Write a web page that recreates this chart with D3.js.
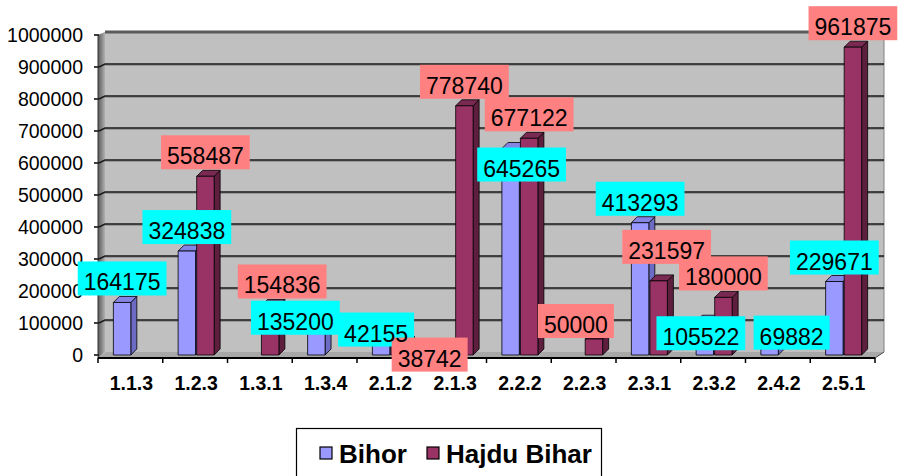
<!DOCTYPE html>
<html>
<head>
<meta charset="utf-8">
<script src="https://cdn.jsdelivr.net/npm/d3@7"></script>
<style>
  body { margin: 0; background: #fff; }
  svg { display: block; font-family: "Liberation Sans", Arial, sans-serif; }
</style>
</head>
<body>
<div id="chart"></div>
<script>
// data
const categories = ["1.1.3", "1.2.3", "1.3.1", "1.3.4", "2.1.2", "2.1.3", "2.2.2", "2.2.3", "2.3.1", "2.3.2", "2.4.2", "2.5.1"];
const seriesNames = ["Bihor", "Hajdu Bihar"];
const bihor = [164175, 324838, null, 135200, 42155, null, 645265, null, 413293, 105522, 69882, 229671];
const hajdu = [null, 558487, 154836, null, 38742, 778740, 677122, 50000, 231597, 180000, null, 961875];
const yTicks = [0, 100000, 200000, 300000, 400000, 500000, 600000, 700000, 800000, 900000, 1000000];

// label boxes that excel pushed around (px, relative to default spot)
const labelNudge = {
  "Hajdu Bihar|1.3.1": [12, 0],
  "Bihor|1.3.4": [-21, 30],
  "Bihor|2.1.2": [-5, 12],
  "Hajdu Bihar|2.1.2": [30, 36],
  "Bihor|2.2.2": [11, 40],
  "Hajdu Bihar|2.2.3": [-18, 6],
  "Hajdu Bihar|2.3.1": [8, -10],
  "Bihor|2.3.2": [-4, 36],
  "Bihor|2.4.2": [22, 24]
};

const W = 899, H = 476;
const svg = d3.select("#chart").append("svg")
  .attr("width", W).attr("height", H);

const x0 = 98, x1 = 875, yBottom = 355, yTop = 35;
const wallDx = 7, wallDy = -3;
const barDx = 6, barDy = -6;

const x = d3.scaleBand().domain(categories).range([x0, x1]);
const xInner = d3.scaleBand().domain(seriesNames).range([-17, 19]).paddingInner(0.06);
const y = d3.scaleLinear().domain([0, 1000000]).range([yBottom, yTop]);

const colors = {
  "Bihor": { front: "#9999FF", side: "#6B6BC4", top: "#8585E6", label: "#00FFFF" },
  "Hajdu Bihar": { front: "#993366", side: "#5E1F3F", top: "#7A2952", label: "#FF8080" }
};

const defs = svg.append("defs");
const lw = defs.append("linearGradient").attr("id", "leftwall")
  .attr("x1", "0").attr("x2", "1").attr("y1", "0").attr("y2", "0");
lw.append("stop").attr("offset", "0").attr("stop-color", "#5a5a5a");
lw.append("stop").attr("offset", "1").attr("stop-color", "#b0b0b0");

// back wall
svg.append("rect")
  .attr("x", x0 + wallDx).attr("y", yTop + wallDy)
  .attr("width", 884 - x0 - wallDx)
  .attr("height", yBottom - yTop)
  .attr("fill", "#C0C0C0");
// left side wall
svg.append("polygon")
  .attr("points", [[x0, yBottom + 3], [x0 + wallDx, yBottom + wallDy], [x0 + wallDx, yTop + wallDy], [x0, yTop]].join(" "))
  .attr("fill", "url(#leftwall)");
// floor
svg.append("polygon")
  .attr("points", [[x0, yBottom + 3], [x0 + wallDx, yBottom + wallDy], [884, yBottom + wallDy], [x1, yBottom + 3]].join(" "))
  .attr("fill", "#A8A8A8");
// wall top edge and right edge
svg.append("line")
  .attr("x1", x0 + wallDx).attr("x2", 884)
  .attr("y1", yTop + wallDy).attr("y2", yTop + wallDy)
  .attr("stroke", "#5a5a5a").attr("stroke-width", 3);
svg.append("line")
  .attr("x1", 884).attr("x2", 884)
  .attr("y1", yTop + wallDy).attr("y2", yBottom + wallDy)
  .attr("stroke", "#808080").attr("stroke-width", 1);

// gridlines on the back wall
const grid = svg.append("g");
yTicks.filter(d => d > 0 && d < 1000000).forEach(t => {
  const yy = y(t);
  grid.append("line")
    .attr("x1", x0 + wallDx).attr("x2", 884)
    .attr("y1", yy + wallDy + 1.2).attr("y2", yy + wallDy + 1.2)
    .attr("stroke", "#8c8c8c").attr("stroke-width", 1.2);
  grid.append("polyline")
    .attr("points", [[x0 + 1, yy], [x0 + wallDx, yy + wallDy], [884, yy + wallDy]].join(" "))
    .attr("fill", "none")
    .attr("stroke", "#1a1a1a").attr("stroke-width", 1.4);
});

// y axis
const yAxis = svg.append("g");
yTicks.forEach(t => {
  yAxis.append("line")
    .attr("x1", x0 - 4).attr("x2", x0 + 1)
    .attr("y1", y(t)).attr("y2", y(t))
    .attr("stroke", "#000").attr("stroke-width", 1.5);
  yAxis.append("text")
    .attr("x", 83).attr("y", y(t))
    .attr("dy", "0.36em")
    .attr("text-anchor", "end")
    .attr("font-size", 19.5)
    .text(t);
});
yAxis.append("line")
  .attr("x1", x0).attr("x2", x0)
  .attr("y1", yTop).attr("y2", yBottom + 3)
  .attr("stroke", "#333").attr("stroke-width", 1);

// bars
const seriesData = [bihor, hajdu];
const barsG = svg.append("g");
const labelItems = [];
categories.forEach((c, i) => {
  seriesNames.forEach((s, k) => {
    const v = seriesData[k][i];
    if (v == null) return;
    const col = colors[s];
    const bx = x(c) + x.bandwidth() / 2 + xInner(s);
    const bw = xInner.bandwidth();
    const by = y(v);
    const g = barsG.append("g").attr("stroke", "#000").attr("stroke-width", 0.8).attr("stroke-linejoin", "round");
    // side
    g.append("polygon")
      .attr("points", [[bx + bw, yBottom], [bx + bw + barDx, yBottom + barDy], [bx + bw + barDx, by + barDy], [bx + bw, by]].join(" "))
      .attr("fill", col.side);
    // top
    g.append("polygon")
      .attr("points", [[bx, by], [bx + barDx, by + barDy], [bx + bw + barDx, by + barDy], [bx + bw, by]].join(" "))
      .attr("fill", col.top);
    // front
    g.append("rect")
      .attr("x", bx).attr("y", by)
      .attr("width", bw).attr("height", yBottom - by)
      .attr("fill", col.front);
    const nudge = labelNudge[s + "|" + c] || [0, 0];
    labelItems.push({
      text: String(v),
      cx: bx + bw / 2 + nudge[0],
      bottom: by - 7 + nudge[1],
      color: col.label
    });
  });
});

// x axis
svg.append("line")
  .attr("x1", x0).attr("x2", x1)
  .attr("y1", yBottom + 3).attr("y2", yBottom + 3)
  .attr("stroke", "#000").attr("stroke-width", 2.2);
svg.append("line")
  .attr("x1", x1).attr("x2", 884)
  .attr("y1", yBottom + 3).attr("y2", yBottom + wallDy)
  .attr("stroke", "#444").attr("stroke-width", 1);
const xTicks = categories.map(c => x(c)).concat([x1]);
xTicks.forEach(t => {
  svg.append("line")
    .attr("x1", t).attr("x2", t)
    .attr("y1", yBottom + 3).attr("y2", yBottom + 8)
    .attr("stroke", "#000").attr("stroke-width", 1.5);
});
svg.append("g").selectAll("text")
  .data(categories)
  .join("text")
  .attr("x", d => x(d) + x.bandwidth() / 2 + 1)
  .attr("y", 390)
  .attr("text-anchor", "middle")
  .attr("font-size", 19.5)
  .attr("font-weight", "bold")
  .text(d => d);

// data labels
const labelsG = svg.append("g");
labelItems.forEach(l => {
  const t = labelsG.append("text")
    .attr("x", l.cx).attr("y", l.bottom - 5)
    .attr("text-anchor", "middle")
    .attr("font-size", 23)
    .text(l.text);
  const tw = t.node().getComputedTextLength();
  labelsG.insert("rect", "text")
    .attr("x", l.cx - tw / 2 - 6)
    .attr("y", l.bottom - 34)
    .attr("width", tw + 12)
    .attr("height", 34)
    .attr("fill", l.color);
});

// legend
const legend = svg.append("g");
legend.append("rect")
  .attr("x", 296.5).attr("y", 428.5)
  .attr("width", 305).attr("height", 60)
  .attr("fill", "#fff")
  .attr("stroke", "#000").attr("stroke-width", 1.2);
const legendX = [320, 427];
seriesNames.forEach((s, k) => {
  legend.append("rect")
    .attr("x", legendX[k]).attr("y", 447)
    .attr("width", 12).attr("height", 12)
    .attr("fill", colors[s].front)
    .attr("stroke", "#000").attr("stroke-width", 1.2);
  legend.append("text")
    .attr("x", legendX[k] + 19).attr("y", 463)
    .attr("font-size", 26)
    .attr("font-weight", "bold")
    .text(s);
});
</script>
</body>
</html>
